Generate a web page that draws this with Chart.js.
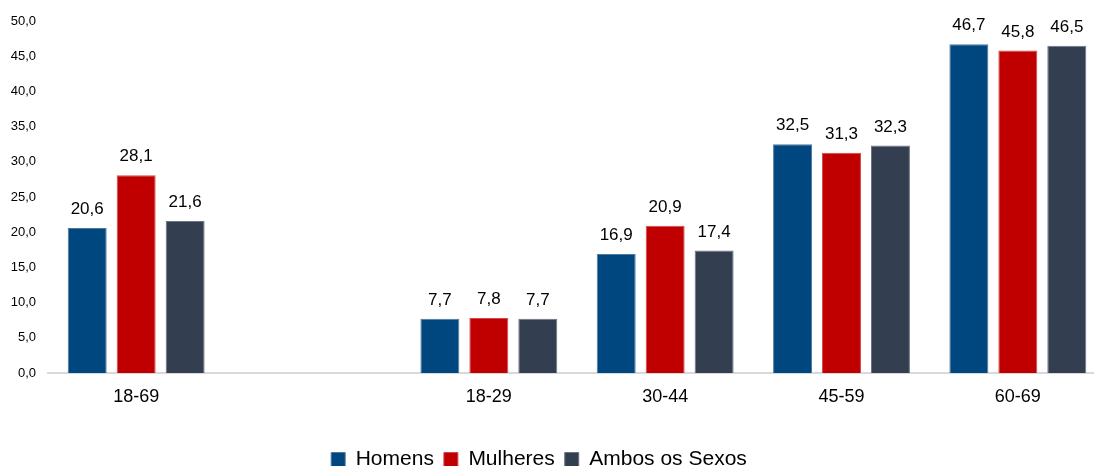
<!DOCTYPE html>
<html>
<head>
<meta charset="utf-8">
<script src="https://cdn.jsdelivr.net/npm/chart.js@4/dist/chart.umd.min.js"></script>
<style>
  html, body { margin: 0; padding: 0; background: #fff; overflow: hidden; }
  #wrap { width: 1134px; height: 480px; position: relative; margin-left: -28px; }
</style>
</head>
<body>
<div id="wrap"><canvas id="chart"></canvas></div>
<script>
// categories (empty slot keeps the gap after 18-69)
const categories = ['18-69', '', '18-29', '30-44', '45-59', '60-69'];
const homens = [20.6, null, 7.7, 16.9, 32.5, 46.7];
const mulheres = [28.1, null, 7.8, 20.9, 31.3, 45.8];
const ambos = [21.6, null, 7.7, 17.4, 32.3, 46.5];

const FONT = '"Liberation Sans", Arial, sans-serif';
const fmt = v => v.toFixed(1).replace('.', ',');

// value labels above each bar
const barLabels = {
  id: 'barLabels',
  afterDatasetsDraw(chart) {
    const ctx = chart.ctx;
    ctx.save();
    ctx.font = '17px ' + FONT;
    ctx.fillStyle = '#000';
    ctx.textAlign = 'center';
    ctx.textBaseline = 'bottom';
    chart.data.datasets.forEach((ds, i) => {
      chart.getDatasetMeta(i).data.forEach((bar, j) => {
        const v = ds.data[j];
        if (v === null) return;
        ctx.fillText(fmt(v), bar.x, bar.y - 10);
      });
    });
    ctx.restore();
  }
};

new Chart(document.getElementById('chart'), {
  type: 'bar',
  data: {
    labels: categories,
    datasets: [
      { label: 'Homens', data: homens, backgroundColor: '#00467f', borderColor: '#4f7aa0', borderWidth: 1 },
      { label: 'Mulheres', data: mulheres, backgroundColor: '#c00000', borderColor: '#d24a4a', borderWidth: 1 },
      { label: 'Ambos os Sexos', data: ambos, backgroundColor: '#333f50', borderColor: '#6a7585', borderWidth: 1 }
    ]
  },
  options: {
    responsive: true,
    maintainAspectRatio: false,
    animation: false,
    categoryPercentage: 0.833,
    barPercentage: 0.796,
    layout: { padding: { top: 21, right: 0, left: 0, bottom: 0 } },
    plugins: {
      tooltip: { enabled: false },
      legend: {
        position: 'bottom',
        labels: {
          color: '#000',
          font: { size: 21, family: FONT },
          boxWidth: 14,
          boxHeight: 14,
          padding: 10
        }
      }
    },
    scales: {
      x: {
        grid: { display: false, drawTicks: false },
        border: { color: '#d9d9d9', width: 2 },
        afterFit: s => { s.height = 66; },
        ticks: {
          color: '#000',
          padding: 13,
          font: { size: 18, family: FONT }
        }
      },
      y: {
        min: 0,
        max: 50,
        grid: { display: false, drawTicks: false },
        border: { display: false },
        afterFit: s => { s.width = 76; },
        ticks: {
          stepSize: 5,
          color: '#000',
          padding: 12,
          callback: v => fmt(v),
          font: { size: 13, family: FONT }
        }
      }
    }
  },
  plugins: [barLabels]
});
</script>
</body>
</html>
